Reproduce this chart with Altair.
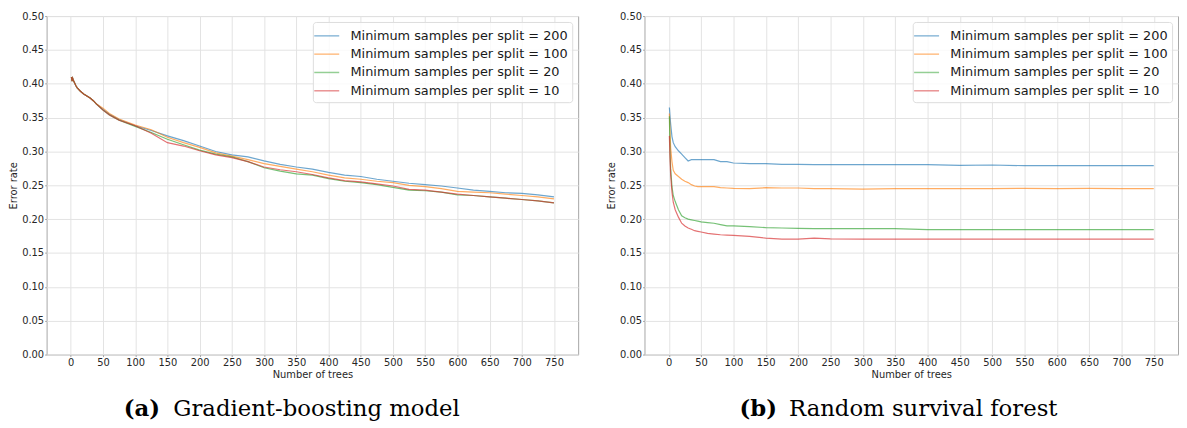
import altair as alt
import pandas as pd

# ---------------- data ----------------
series_labels = [
    "Minimum samples per split = 200",
    "Minimum samples per split = 100",
    "Minimum samples per split = 20",
    "Minimum samples per split = 10",
]
series_colors = ["#1f77b4", "#ff7f0e", "#2ca02c", "#d62728"]

# (a) Gradient-boosting model
gbm_trees = [1, 2, 3, 4, 6, 8, 10, 15, 20, 25, 30, 35, 40, 50, 60, 75, 100, 125, 150, 175,
             200, 225, 250, 275, 300, 325, 350, 375, 400, 425, 450, 475, 500, 525, 550,
             575, 600, 625, 650, 675, 700, 725, 750]
gbm_early = [0.410, 0.404, 0.408, 0.405, 0.401, 0.397, 0.394, 0.389, 0.385, 0.382, 0.379,
             0.375, 0.370]
gbm_200 = gbm_early + [0.362, 0.355, 0.347, 0.338, 0.331, 0.323, 0.316, 0.308, 0.300, 0.295,
                       0.292, 0.286, 0.281, 0.277, 0.274, 0.269, 0.265, 0.263, 0.259, 0.256,
                       0.253, 0.251, 0.249, 0.246, 0.243, 0.241, 0.239, 0.238, 0.236, 0.233]
gbm_100 = gbm_early + [0.364, 0.356, 0.348, 0.339, 0.332, 0.321, 0.313, 0.306, 0.298, 0.293,
                       0.288, 0.282, 0.278, 0.274, 0.270, 0.265, 0.261, 0.259, 0.256, 0.254,
                       0.250, 0.248, 0.245, 0.241, 0.240, 0.239, 0.237, 0.235, 0.233, 0.230]
gbm_20 = gbm_early + [0.361, 0.354, 0.346, 0.337, 0.328, 0.318, 0.310, 0.302, 0.296, 0.292,
                      0.285, 0.276, 0.271, 0.267, 0.265, 0.260, 0.256, 0.254, 0.251, 0.247,
                      0.243, 0.242, 0.240, 0.236, 0.235, 0.233, 0.231, 0.229, 0.227, 0.224]
gbm_10 = gbm_early + [0.361, 0.354, 0.346, 0.338, 0.327, 0.313, 0.308, 0.301, 0.295, 0.291,
                      0.285, 0.277, 0.273, 0.270, 0.266, 0.261, 0.257, 0.255, 0.252, 0.249,
                      0.244, 0.243, 0.240, 0.237, 0.235, 0.233, 0.231, 0.229, 0.227, 0.224]

# (b) Random survival forest
rsf_trees = [1, 2, 3, 5, 7, 10, 15, 20, 25, 30, 35, 40, 45, 50, 60, 70, 80, 90, 100, 125,
             150, 175, 200, 225, 250, 300, 350, 400, 450, 500, 550, 600, 650, 700, 750]
rsf_200 = [0.365, 0.352, 0.340, 0.322, 0.313, 0.307, 0.301, 0.296, 0.291, 0.286, 0.288,
           0.288, 0.288, 0.288, 0.288, 0.288, 0.285, 0.285, 0.283, 0.282, 0.282, 0.281,
           0.281, 0.2805, 0.2805, 0.2805, 0.2805, 0.2805, 0.2795, 0.280, 0.279, 0.279,
           0.279, 0.279, 0.279]
rsf_100 = [0.356, 0.330, 0.305, 0.285, 0.272, 0.267, 0.263, 0.259, 0.256, 0.254, 0.251,
           0.249, 0.248, 0.248, 0.248, 0.248, 0.2465, 0.246, 0.2455, 0.245, 0.2465, 0.246,
           0.246, 0.245, 0.245, 0.2445, 0.245, 0.245, 0.245, 0.245, 0.2455, 0.245, 0.2455,
           0.245, 0.245]
rsf_20 = [0.352, 0.300, 0.275, 0.248, 0.235, 0.226, 0.214, 0.205, 0.202, 0.200, 0.199,
          0.198, 0.197, 0.196, 0.195, 0.194, 0.192, 0.190, 0.190, 0.189, 0.1875, 0.187,
          0.1865, 0.186, 0.186, 0.186, 0.186, 0.1845, 0.1845, 0.1845, 0.1845, 0.1845,
          0.1845, 0.1845, 0.1845]
rsf_10 = [0.323, 0.290, 0.265, 0.240, 0.225, 0.214, 0.203, 0.194, 0.190, 0.187, 0.185,
          0.183, 0.182, 0.181, 0.179, 0.178, 0.177, 0.1765, 0.176, 0.1745, 0.172, 0.1705,
          0.1705, 0.172, 0.171, 0.1705, 0.1705, 0.1705, 0.1705, 0.1705, 0.1705, 0.1705,
          0.1705, 0.1705, 0.1705]

x_ticks = list(range(0, 751, 50))
y_ticks = [round(0.05 * i, 2) for i in range(11)]

captions = [("(a)", "Gradient-boosting model"), ("(b)", "Random survival forest")]


def long_df(trees, series):
    rows = []
    for label, vals in zip(series_labels, series):
        for t, v in zip(trees, vals):
            rows.append({"trees": t, "err": v, "series": label})
    return pd.DataFrame(rows)


gbm_df = long_df(gbm_trees, [gbm_200, gbm_100, gbm_20, gbm_10])
rsf_df = long_df(rsf_trees, [rsf_200, rsf_100, rsf_20, rsf_10])

FONT = "DejaVu Sans"
SERIF = "DejaVu Serif"
H = 342


def panel(df, width, cap, bold_x, text_x):
    legend = alt.Legend(
        title=None, orient="top-right", offset=6,
        symbolType="M-1.4,0H1.4", symbolSize=324, symbolStrokeWidth=1.5,
        symbolOpacity=0.5, labelFont=FONT, labelFontSize=13, labelColor="#1a1a1a",
        labelOffset=14, labelLimit=0, rowPadding=1.5, padding=4,
        fillColor="rgba(255,255,255,0.8)", strokeColor="#dddddd", cornerRadius=3,
    )
    lines = alt.Chart(df).mark_line(strokeWidth=1.2, opacity=0.65).encode(
        x=alt.X("trees:Q", scale=alt.Scale(domain=[-37.5, 787.5], nice=False, zero=False),
                axis=alt.Axis(values=x_ticks, title="Number of trees")),
        y=alt.Y("err:Q", scale=alt.Scale(domain=[0, 0.5], nice=False),
                axis=alt.Axis(values=y_ticks, format=".2f", title="Error rate")),
        color=alt.Color("series:N", sort=series_labels,
                        scale=alt.Scale(domain=series_labels, range=series_colors),
                        legend=legend),
    )
    cap_df = pd.DataFrame({"tag": [cap[0]], "txt": [cap[1]]})
    tag = alt.Chart(cap_df).mark_text(
        font=SERIF, fontSize=23, fontWeight="bold", align="left", baseline="alphabetic",
        color="#000000",
    ).encode(text="tag:N", x=alt.value(bold_x), y=alt.value(H + 62))
    txt = alt.Chart(cap_df).mark_text(
        font=SERIF, fontSize=23, align="left", baseline="alphabetic", color="#000000",
    ).encode(text="txt:N", x=alt.value(text_x), y=alt.value(H + 62))
    return alt.layer(lines, tag, txt).properties(width=width, height=H)


left = panel(gbm_df, 537, captions[0], 78, 128)
right = panel(rsf_df, 539, captions[1], 96, 146)

chart = alt.hconcat(left, right, spacing=27).resolve_scale(color="independent").resolve_legend(
    color="independent"
).properties(padding={"left": 0, "top": 0, "right": 0, "bottom": 0}).configure_view(
    stroke="#a6a6a6", strokeWidth=1
).configure_axis(
    labelFont=FONT, labelFontSize=10, labelColor="#262626",
    titleFont=FONT, titleFontSize=10, titleFontWeight="normal", titleColor="#262626",
    grid=True, gridColor="#e3e3e3", gridWidth=1,
    domain=False, tickColor="#a6a6a6", tickSize=2, labelPadding=1,
).configure_axisY(titlePadding=3).configure_axisX(titlePadding=2)

chart.save("out.html", embed_options={"renderer": "svg", "actions": False})
